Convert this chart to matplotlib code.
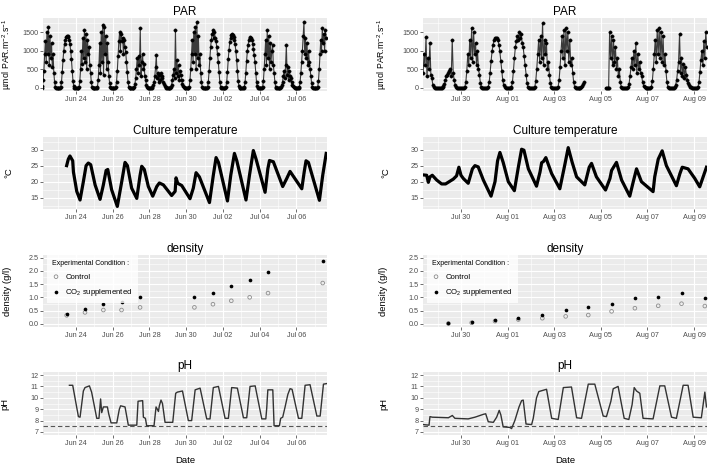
import numpy as np
import pandas as pd
import matplotlib
matplotlib.use('Agg')
import matplotlib.pyplot as plt
import matplotlib.dates as mdates
from matplotlib.ticker import FormatStrFormatter

plt.rcParams['font.family'] = ['Liberation Sans', 'DejaVu Sans']
plt.rcParams['mathtext.fontset'] = 'custom'
plt.rcParams['mathtext.rm'] = 'Liberation Sans'
plt.rcParams['mathtext.it'] = 'Liberation Sans:italic'
plt.rcParams['mathtext.bf'] = 'Liberation Sans:bold'

N = None

# ---------------- first culture (June / July) ----------------
# PAR, hourly readings (hour 0..23) for each day starting Jun 22
par1_start = '2014-06-22'
par1_hourly = [
    [0, 0, 0, 0, 30, 200, 450, 900, 1250, 700, 1500, 900, 1650, 600, 1400, 800, 1200, 550, 900, 400, 150, 20, 0, 0],  # Jun 22
    [0, 0, 0, 0, 20, 150, 420, 750, 1000, 1180, 1300, 1370, 1400, 1400, 1370, 1300, 1180, 1000, 760, 450, 180, 40, 0, 0],  # Jun 23
    [0, 0, 0, 0, 20, 180, 500, 1000, 650, 1350, 800, 1550, 700, 1450, 500, 1300, 900, 1100, 600, 400, 150, 20, 0, 0],  # Jun 24
    [0, 0, 0, 0, 20, 200, 600, 1200, 400, 1500, 700, 1700, 350, 1650, 900, 1400, 500, 1200, 700, 300, 120, 20, 0, 0],  # Jun 25
    [0, 0, 0, 0, 20, 160, 450, 850, 1250, 1500, 1000, 1450, 1250, 1350, 900, 1300, 1100, 950, 700, 420, 150, 20, 0, 0],  # Jun 26
    [0, 0, 0, 0, 10, 100, 250, 500, 800, 400, 850, 600, 1600, 300, 700, 900, 500, 650, 300, 200, 80, 10, 0, 0],  # Jun 27
    [0, 0, 0, 0, 10, 60, 150, 300, 550, 880, 250, 400, 150, 350, 200, 400, 300, 250, 150, 100, 40, 5, 0, 0],  # Jun 28
    [0, 0, 0, 0, 10, 80, 200, 350, 500, 250, 1550, 400, 750, 300, 600, 200, 450, 350, 200, 100, 40, 5, 0, 0],  # Jun 29
    [0, 0, 0, 0, 20, 200, 500, 900, 1300, 700, 1500, 900, 1650, 500, 1780, 800, 1400, 600, 900, 400, 150, 20, 0, 0],  # Jun 30
    [0, 0, 0, 0, 20, 160, 450, 800, 1100, 1300, 1450, 1550, 1350, 1500, 1350, 1250, 1100, 900, 700, 420, 150, 20, 0, 0],  # Jul 01
    [0, 0, 0, 0, 20, 150, 420, 760, 1020, 1220, 1350, 1420, 1450, 1430, 1380, 1300, 1170, 980, 740, 440, 170, 30, 0, 0],  # Jul 02
    [0, 0, 0, 0, 20, 140, 400, 720, 980, 1160, 1280, 1340, 1360, 1340, 1280, 1180, 1040, 880, 680, 400, 150, 30, 0, 0],  # Jul 03
    [0, 0, 0, 0, 20, 180, 500, 900, 1300, 600, 1550, 800, 1400, 500, 1200, 700, 1000, 1150, 600, 400, 150, 20, 0, 0],  # Jul 04
    [0, 0, 0, 0, 10, 60, 150, 300, 450, 250, 600, 1150, 350, 550, 200, 450, 300, 250, 150, 80, 30, 5, 0, 0],  # Jul 05
    [0, 0, 0, 0, 20, 150, 400, 700, 1000, 1400, 1780, 900, 1350, 800, 1200, 600, 1000, 700, 500, 300, 120, 20, 0, 0],  # Jul 06
    [0, 0, 0, 0, 20, 180, 500, 900, 1300, 1000, 1600, 1200, 1450, 1000, 1550, 1350],  # Jul 07
]

# culture temperature, time given as day of June (Jul 01 = 31)
temp1_day = [23.49, 23.58, 23.67, 23.82, 23.86, 24.04, 24.22, 24.40, 24.55, 24.67, 24.80, 25.04, 25.31,
             25.49, 25.64, 25.73, 25.94, 26.25, 26.49, 26.67, 26.80, 27.03, 27.31, 27.49, 27.58, 27.72,
             27.94, 28.18, 28.40, 28.54, 28.76, 29.21, 29.40, 29.45, 29.54, 29.76, 30.21, 30.39, 30.54,
             30.72, 31.27, 31.48, 31.63, 31.76, 32.25, 32.43, 32.63, 32.76, 33.26, 33.45, 33.66, 33.81,
             34.30, 34.45, 34.54, 34.75, 35.26, 35.48, 35.66, 36.30, 36.43, 36.53, 36.66, 37.26, 37.44, 37.63]
temp1_val = [25.0, 27.0, 28.0, 26.5, 23.0, 17.0, 14.3, 20.0, 25.0, 25.8, 25.3, 19.0, 14.5,
             19.0, 23.5, 23.8, 17.5, 12.3, 20.0, 26.0, 25.0, 18.0, 14.8, 22.0, 24.8, 23.8,
             18.5, 15.5, 18.5, 19.6, 19.0, 15.7, 17.0, 21.2, 19.5, 18.8, 14.7, 18.0, 22.8,
             21.5, 13.5, 22.0, 27.5, 26.0, 14.0, 22.0, 28.8, 26.5, 14.3, 22.0, 29.7, 27.0,
             16.7, 24.0, 26.6, 26.2, 18.5, 21.0, 23.2, 17.8, 23.0, 26.5, 26.0, 14.2, 22.0, 28.8]

# density sampling
dens1_day = [23.49, 24.49, 25.49, 26.48, 27.49, 30.45, 31.46, 32.46, 33.46, 34.46, 37.44]
dens1_co2 = [0.37, 0.56, 0.73, 0.82, 1.00, 1.00, 1.16, 1.41, 1.65, 1.97, 2.36]
dens1_ctrl = [0.32, 0.43, 0.52, 0.52, 0.62, 0.62, 0.74, 0.87, 1.00, 1.16, 1.54]

# pH
ph1_day = [23.64, 23.82, 24.13, 24.22, 24.40, 24.49, 24.73, 24.85, 25.13, 25.25, 25.34, 25.40, 25.49,
           25.71, 25.78, 25.91, 26.22, 26.36, 26.43, 26.67, 26.85, 27.31, 27.38, 27.63, 27.67, 27.78,
           27.85, 28.25, 28.36, 28.43, 28.49, 28.54, 28.63, 28.71, 28.85, 29.27, 29.43, 29.52, 29.80,
           30.12, 30.30, 30.49, 30.76, 31.12, 31.30, 31.48, 31.76, 32.12, 32.30, 32.48, 32.79, 33.12,
           33.30, 33.48, 33.76, 34.12, 34.34, 34.39, 34.45, 34.72, 34.79, 35.08, 35.15, 35.26, 35.39,
           35.54, 35.66, 35.77, 36.12, 36.30, 36.48, 36.75, 37.12, 37.30, 37.48, 37.66]
ph1_val = [11.1, 11.1, 8.35, 8.3, 10.6, 10.9, 11.05, 10.5, 8.2, 8.2, 9.9, 8.7, 9.2,
           9.2, 8.6, 7.8, 7.8, 9.0, 9.3, 9.2, 7.6, 7.6, 9.7, 9.75, 8.3, 8.2,
           7.55, 7.55, 9.2, 9.0, 8.8, 9.3, 9.8, 9.5, 7.85, 7.85, 10.4, 10.5, 10.6,
           8.0, 8.0, 10.7, 10.85, 8.15, 8.15, 10.9, 11.0, 8.2, 8.2, 10.9, 10.85, 8.25,
           8.25, 11.0, 11.05, 8.15, 8.15, 9.1, 10.7, 10.7, 7.55, 7.55, 8.2, 8.3, 9.2,
           10.3, 10.8, 10.75, 8.2, 8.2, 11.1, 11.15, 8.4, 8.4, 11.2, 11.25]

# ---------------- second culture (July / August) ----------------
par2_start = '2014-07-28'
par2_hourly = [
    [N, N, N, N, N, N, N, N, N, 400, 900, 600, 1380, 300, 800, 500, 1200, 350, 250, 80, 20, 0, 0, 0],  # Jul 28
    [0, 0, 0, 0, 0, 10, 40, 100, 200, 300, 350, 400, 450, 500, 300, 1300, 400, 200, 80, 20, 0, 0, 0, 0],  # Jul 29
    [0, 0, 0, 0, 20, 150, 450, 900, 600, 1300, 800, 1620, 700, 1500, 900, 1200, 600, 1000, 500, 350, 120, 20, 0, 0],  # Jul 30
    [0, 0, 0, 0, 20, 140, 400, 720, 980, 1160, 1280, 1340, 1350, 1340, 1280, 1160, 980, 720, 450, 200, 60, 10, 0, 0],  # Jul 31
    [0, 0, 0, 0, 20, 160, 450, 800, 1100, 1250, 1400, 1300, 1500, 1350, 1450, 1200, 1100, 850, 600, 350, 120, 20, 0, 0],  # Aug 01
    [0, 0, 0, 0, 20, 180, 500, 900, 1300, 700, 1400, 800, 1750, 600, 1300, 900, 1200, 500, 700, 350, 120, 20, 0, 0],  # Aug 02
    [0, 0, 0, 0, 20, 200, 550, 1000, 1400, 800, 1550, 600, 1600, 1000, 1500, 700, 1300, 600, 800, 400, 150, 20, 0, 0],  # Aug 03
    [0, 0, 0, 0, 10, 40, 90, 150],  # Aug 04 (no data afterwards)
    [N, N, N, N, N, 0, 0, 0, 0, 1500, 800, 1400, 600, 1300, 700, 1100, 500, 800, 300, 500, 150, 20, 0, 0],  # Aug 05
    [0, 0, 0, 0, 10, 100, 300, 550, 800, 500, 1000, 600, 1200, 400, 900, 500, 700, 400, 300, 150, 50, 10, 0, 0],  # Aug 06
    [0, 0, 0, 0, 20, 180, 500, 900, 1300, 700, 1550, 900, 1600, 800, 1500, 700, 1400, 600, 900, 450, 150, 20, 0, 0],  # Aug 07
    [0, 0, 0, 0, 10, 80, 200, 450, 700, 1450, 400, 800, 300, 650, 250, 550, 350, 200, 120, 60, 20, 5, 0, 0],  # Aug 08
    [0, 0, 0, 0, 20, 150, 420, 750, 1000, 600, 1250, 800, 1500, 1100],  # Aug 09
]

# time given as day of July (Aug 01 = 32)
temp2_day = [28.39, 28.53, 28.60, 28.67, 28.77, 28.96, 29.17, 29.34, 29.67, 29.81, 29.91, 30.00, 30.10,
             30.31, 30.49, 30.60, 30.74, 30.96, 31.29, 31.46, 31.57, 31.67, 31.81, 32.03, 32.29, 32.46,
             32.60, 32.70, 32.89, 33.24, 33.39, 33.46, 33.54, 33.64, 33.89, 34.24, 34.46, 34.60, 34.77,
             34.96, 35.31, 35.50, 35.60, 35.81, 36.20, 36.39, 36.46, 36.67, 36.89, 37.24, 37.39, 37.53,
             37.74, 38.24, 38.31, 38.46, 38.63, 38.81, 39.24, 39.39, 39.49, 39.74, 40.03, 40.24, 40.53]
temp2_val = [22.1, 22.0, 19.8, 21.5, 22.0, 20.5, 19.3, 19.3, 20.8, 21.8, 24.5, 22.0, 21.0,
             19.5, 24.0, 25.0, 24.6, 20.5, 15.5, 20.0, 26.5, 29.1, 26.0, 20.0, 17.2, 24.5,
             30.1, 29.8, 24.0, 18.6, 23.0, 25.9, 26.3, 27.5, 22.5, 17.8, 25.5, 30.6, 26.0,
             21.5, 19.0, 24.5, 25.7, 21.5, 17.4, 21.0, 23.5, 26.0, 20.5, 15.5, 20.0, 24.0,
             20.0, 16.9, 21.5, 27.0, 29.6, 25.0, 18.75, 22.5, 24.5, 24.0, 21.0, 18.4, 24.5]

dens2_day = [29.46, 30.46, 31.46, 32.46, 33.49, 34.49, 35.46, 36.46, 37.46, 38.46, 39.46, 40.46]
dens2_co2 = [0.03, 0.06, 0.13, 0.20, 0.34, 0.53, 0.62, 0.76, 0.96, 1.03, 1.18, 0.99]
dens2_ctrl = [0.01, 0.04, 0.10, 0.16, 0.21, 0.28, 0.33, 0.47, 0.59, 0.68, 0.76, 0.67]

ph2_day = [28.39, 28.63, 28.67, 28.77, 29.46, 29.63, 29.74, 30.31, 30.60, 30.96, 31.06, 31.17, 31.39,
           31.53, 31.64, 31.71, 31.81, 32.10, 32.17, 32.31, 32.49, 32.60, 32.67, 32.79, 33.03, 33.10,
           33.24, 33.34, 33.67, 33.89, 34.17, 34.39, 34.74, 34.96, 35.17, 35.46, 35.74, 36.10, 36.24,
           36.43, 36.53, 36.74, 37.00, 37.20, 37.34, 37.43, 37.53, 37.67, 37.81, 38.24, 38.53, 38.74,
           39.03, 39.24, 39.53, 39.74, 39.96, 40.31, 40.46, 40.53]
ph2_val = [7.65, 7.6, 8.35, 8.3, 8.25, 8.45, 8.2, 8.15, 8.3, 8.55, 8.6, 7.9, 7.85,
           8.3, 8.9, 8.5, 7.45, 7.4, 7.3, 8.0, 9.2, 9.75, 9.8, 7.7, 7.65, 8.2,
           10.0, 10.55, 10.75, 8.2, 8.1, 10.9, 10.95, 8.25, 8.2, 11.2, 11.2, 8.4, 8.35,
           9.7, 10.8, 11.0, 8.2, 8.1, 9.4, 10.9, 10.6, 10.4, 8.2, 8.15, 11.05, 11.05,
           8.3, 8.2, 11.1, 11.1, 8.3, 8.25, 10.5, 9.2]

ph_limit = 7.5


def hourly_series(start, rows):
    t, v = [], []
    day0 = pd.Timestamp(start)
    for d, row in enumerate(rows):
        for h, val in enumerate(row):
            t.append(day0 + pd.Timedelta(days=d, hours=h))
            v.append(np.nan if val is None else val)
    return t, v


def day_to_time(month_start, days):
    base = pd.Timestamp(month_start) - pd.Timedelta(days=1)
    return [base + pd.Timedelta(days=d) for d in days]


def style_panel(ax, title, ylabel, label_x, xlim, ylim, yticks, ymin, xmaj, xmin, ysize=6.8):
    ax.set_facecolor('#EBEBEB')
    for s in ax.spines.values():
        s.set_visible(False)
    ax.set_xlim(xlim)
    ax.set_ylim(ylim)
    ax.set_yticks(yticks)
    ax.set_yticks(ymin, minor=True)
    ax.set_xticks(xmaj)
    ax.set_xticks(xmin, minor=True)
    ax.xaxis.set_major_formatter(mdates.DateFormatter('%b %d'))
    ax.grid(which='major', color='white', lw=0.8)
    ax.grid(which='minor', color='white', lw=0.4)
    ax.set_axisbelow(True)
    ax.tick_params(which='major', length=2, width=0.5, color='#333333',
                   labelsize=5.2, labelcolor='#4D4D4D', pad=1.5)
    ax.tick_params(which='minor', length=0)
    ax.set_title(title, fontsize=8.5, pad=2)
    ax.set_ylabel(ylabel, fontsize=ysize)
    ax.yaxis.set_label_coords(label_x, 0.5)


W, H = 711, 471
fig = plt.figure(figsize=(W / 100, H / 100), dpi=100)


def add_ax(x0, top, bottom, width=283.5):
    return fig.add_axes([x0 / W, 1 - bottom / H, width / W, (bottom - top) / H])


rows = [(18.3, 90.7), (136.7, 209.0), (255.0, 326.7), (372.3, 435.3)]
columns = [
    dict(x0=43.3, month='2014-06-01', par_start=par1_start, par=par1_hourly,
         temp=(temp1_day, temp1_val), dens=(dens1_day, dens1_co2, dens1_ctrl), ph=(ph1_day, ph1_val),
         xlim=(22.218, 37.662), tick0='2014-06-24', tick1='2014-07-06', minor0='2014-06-23', minor1='2014-07-07',
         lab=[-0.103, -0.106, -0.112, -0.12]),
    dict(x0=423.3, month='2014-07-01', par_start=par2_start, par=par2_hourly,
         temp=(temp2_day, temp2_val), dens=(dens2_day, dens2_co2, dens2_ctrl), ph=(ph2_day, ph2_val),
         xlim=(28.384, 40.544), tick0='2014-07-30', tick1='2014-08-09', minor0='2014-07-29', minor1='2014-08-08',
         lab=[-0.12, -0.115, -0.125, -0.123]),
]

for col in columns:
    xl = day_to_time(col['month'], col['xlim'])
    xmaj = pd.date_range(col['tick0'], col['tick1'], freq='2D')
    xmin = pd.date_range(col['minor0'], col['minor1'], freq='2D')

    # PAR
    ax = add_ax(col['x0'], *rows[0])
    t, v = hourly_series(col['par_start'], col['par'])
    ax.plot(t, v, color='#3A3A3A', lw=0.8, zorder=2)
    ax.plot(t, v, ls='none', marker='o', ms=2.4, mfc='black', mec='black', mew=0.3, zorder=3)
    style_panel(ax, 'PAR', r'µmol PAR.m$^{-2}$.s$^{-1}$', col['lab'][0], xl, (-85, 1875),
                [0, 500, 1000, 1500], [250, 750, 1250, 1750], xmaj, xmin, ysize=6.2)

    # temperature
    ax = add_ax(col['x0'], *rows[1])
    ax.plot(day_to_time(col['month'], col['temp'][0]), col['temp'][1], color='black', lw=2.3,
            solid_joinstyle='round', zorder=3)
    style_panel(ax, 'Culture temperature', '°C', col['lab'][1], xl, (11.5, 34.0),
                [15, 20, 25, 30], [12.5, 17.5, 22.5, 27.5, 32.5], xmaj, xmin)

    # density
    ax = add_ax(col['x0'], *rows[2])
    dt = day_to_time(col['month'], col['dens'][0])
    ax.scatter(dt, col['dens'][2], s=7, facecolors='none', edgecolors='#8C8C8C', linewidths=0.6,
               label='Control', zorder=3)
    ax.scatter(dt, col['dens'][1], s=7, color='black', linewidths=0, label='CO$_2$ supplemented', zorder=3)
    style_panel(ax, 'density', 'density (g/l)', col['lab'][2], xl, (-0.11, 2.6),
                [0, 0.5, 1.0, 1.5, 2.0, 2.5], [0.25, 0.75, 1.25, 1.75, 2.25], xmaj, xmin)
    ax.yaxis.set_major_formatter(FormatStrFormatter('%.1f'))
    leg = ax.legend(loc='upper left', bbox_to_anchor=(0.012, 1.0), title='Experimental Condition :',
                    fontsize=5.6, title_fontsize=5.0, frameon=True, fancybox=False, borderaxespad=0,
                    borderpad=0.7, labelspacing=0.75, handlelength=1.0, handletextpad=0.7,
                    alignment='left', scatterpoints=1)
    leg.get_frame().set_facecolor('white')
    leg.get_frame().set_edgecolor('none')
    leg.get_frame().set_linewidth(0)

    # pH
    ax = add_ax(col['x0'], *rows[3])
    ax.plot(day_to_time(col['month'], col['ph'][0]), col['ph'][1], color='#333333', lw=1.0, zorder=3)
    ax.axhline(ph_limit, color='#555555', lw=0.8, ls=(0, (4, 2.5)), zorder=2)
    style_panel(ax, 'pH', 'pH', col['lab'][3], xl, (6.71, 12.24),
                [7, 8, 9, 10, 11, 12], [7.5, 8.5, 9.5, 10.5, 11.5], xmaj, xmin)
    ax.set_xlabel('Date', fontsize=6.8)
    ax.xaxis.label.set_va('center')
    ax.xaxis.set_label_coords(0.5, -0.403)

fig.savefig('out.png', dpi=100)
